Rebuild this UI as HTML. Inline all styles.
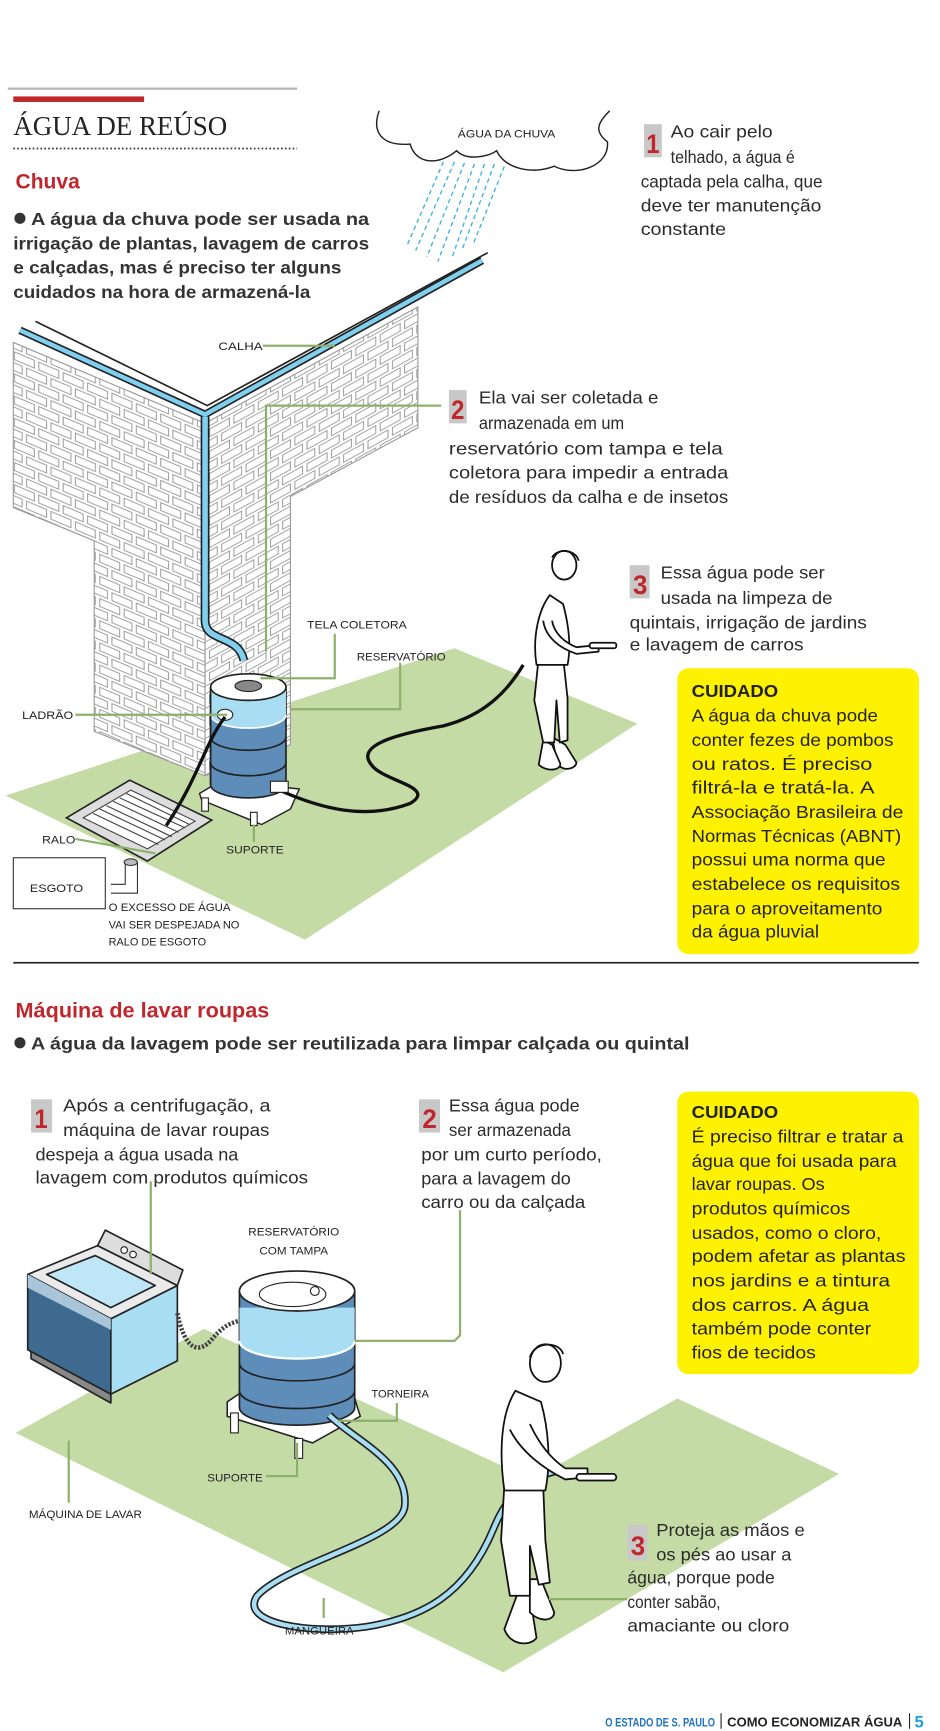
<!DOCTYPE html>
<html><head><meta charset="utf-8"><style>
html,body{margin:0;padding:0;background:#fff}
svg{display:block}
.b{font-family:"Liberation Sans",sans-serif;fill:#2b2b2b;font-size:16px}
.lb{font-family:"Liberation Sans",sans-serif;fill:#222;font-size:10px}
.g{stroke:#8db06a;stroke-width:2;fill:none}
</style></head><body>
<svg width="940" height="1731" viewBox="0 0 848 1562" preserveAspectRatio="none" xmlns="http://www.w3.org/2000/svg">
<defs>
<pattern id="brL" width="44" height="20" patternUnits="userSpaceOnUse" patternTransform="skewY(23)">
<rect width="44" height="20" fill="#fff"/>
<rect x="2" y="2" width="18" height="7" fill="#fff" stroke="#999" stroke-width="0.9"/>
<rect x="24" y="2" width="18" height="7" fill="#fff" stroke="#999" stroke-width="0.9"/>
<rect x="13" y="12" width="18" height="7" fill="#fff" stroke="#999" stroke-width="0.9"/>
<rect x="-9" y="12" width="18" height="7" fill="#fff" stroke="#999" stroke-width="0.9"/>
<rect x="35" y="12" width="18" height="7" fill="#fff" stroke="#999" stroke-width="0.9"/>
</pattern>
<pattern id="brR" width="44" height="20" patternUnits="userSpaceOnUse" patternTransform="skewY(-29)">
<rect width="44" height="20" fill="#fff"/>
<rect x="2" y="2" width="18" height="7" fill="#fff" stroke="#999" stroke-width="0.9"/>
<rect x="24" y="2" width="18" height="7" fill="#fff" stroke="#999" stroke-width="0.9"/>
<rect x="13" y="12" width="18" height="7" fill="#fff" stroke="#999" stroke-width="0.9"/>
<rect x="-9" y="12" width="18" height="7" fill="#fff" stroke="#999" stroke-width="0.9"/>
<rect x="35" y="12" width="18" height="7" fill="#fff" stroke="#999" stroke-width="0.9"/>
</pattern>
</defs>

<!-- header -->
<rect x="7" y="79" width="261" height="2" fill="#b5b5b5"/>
<rect x="12" y="87" width="118" height="5" fill="#c0272d"/>
<text x="12" y="122" font-family="Liberation Serif,serif" font-size="25" fill="#222" textLength="193" lengthAdjust="spacingAndGlyphs">ÁGUA DE REÚSO</text>
<line x1="12" y1="134" x2="268" y2="134" stroke="#333" stroke-width="1.5" stroke-dasharray="1.5 2"/>
<text x="14" y="170" font-family="Liberation Sans,sans-serif" font-weight="bold" font-size="19" fill="#c0272d" textLength="58" lengthAdjust="spacingAndGlyphs">Chuva</text>
<g class="b" font-weight="bold" style="fill:#333">
<circle cx="18" cy="197" r="5" fill="#333"/>
<text x="28" y="203" textLength="305" lengthAdjust="spacingAndGlyphs">A água da chuva pode ser usada na</text>
<text x="12" y="225" textLength="321" lengthAdjust="spacingAndGlyphs">irrigação de plantas, lavagem de carros</text>
<text x="12" y="247" textLength="296" lengthAdjust="spacingAndGlyphs">e calçadas, mas é preciso ter alguns</text>
<text x="12" y="269" textLength="268" lengthAdjust="spacingAndGlyphs">cuidados na hora de armazená-la</text>
</g>

<!-- cloud -->
<path d="M342 100 C335 120 345 132 370 130 C375 148 395 150 412 136 C420 145 440 142 448 136 C455 152 480 158 500 150 C520 160 550 150 548 128 C535 118 540 110 550 100" fill="none" stroke="#222" stroke-width="1.3"/>
<text x="457" y="124" class="lb" text-anchor="middle" font-size="10" textLength="88" lengthAdjust="spacingAndGlyphs">ÁGUA DA CHUVA</text>
<g stroke="#3bb0e0" stroke-width="1.2" stroke-dasharray="4 3">
<line x1="400" y1="146" x2="367" y2="222"/><line x1="410" y1="146" x2="375" y2="226"/><line x1="419" y1="147" x2="385" y2="232"/><line x1="428" y1="148" x2="395" y2="236"/><line x1="437" y1="148" x2="408" y2="232"/><line x1="446" y1="148" x2="417" y2="225"/><line x1="455" y1="150" x2="427" y2="220"/>
</g>

<!-- item1 -->
<rect x="581" y="112" width="16" height="30" fill="#c8c8c8"/>
<text x="583" y="138" font-family="Liberation Sans,sans-serif" font-weight="bold" font-size="24" fill="#c0272d" textLength="12" lengthAdjust="spacingAndGlyphs">1</text>
<g class="b">
<text x="605" y="124" textLength="92" lengthAdjust="spacingAndGlyphs">Ao cair pelo</text>
<text x="605" y="147" textLength="112" lengthAdjust="spacingAndGlyphs">telhado, a água é</text>
<text x="578" y="169" textLength="164" lengthAdjust="spacingAndGlyphs">captada pela calha, que</text>
<text x="578" y="191" textLength="163" lengthAdjust="spacingAndGlyphs">deve ter manutenção</text>
<text x="578" y="212" textLength="77" lengthAdjust="spacingAndGlyphs">constante</text>
</g>

<!-- green ground 1 -->
<polygon points="5,718 410,585 575,653 275,848" fill="#c5dba6"/>

<!-- walls -->
<polygon points="12,309 185,382 185,700 85,660 85,488 12,458" fill="url(#brL)" stroke="#999"/>
<polygon points="185,382 377,277 377,386 262,448 262,672 185,700" fill="url(#brR)" stroke="#999"/>
<!-- gutter -->
<polyline points="18,298 185,374 435,235" fill="none" stroke="#222" stroke-width="7"/>
<polyline points="18,298 185,374 435,235" fill="none" stroke="#7fd0ef" stroke-width="4"/>
<polyline points="32,290 187,366 440,228" fill="none" stroke="#222" stroke-width="1.5"/>
<!-- downpipe -->
<path d="M185 376 V560 C185 580 215 572 220 596" fill="none" stroke="#222" stroke-width="8"/>
<path d="M185 376 V560 C185 580 215 572 220 596" fill="none" stroke="#7fd0ef" stroke-width="5"/>

<!-- grate -->
<polygon points="60,738 117,704 191,740 133,777" fill="#ddd" stroke="#222" stroke-width="1.5"/>
<polygon points="75,738 118,713 176,741 133,766" fill="#fff" stroke="#444"/>
<g stroke="#444" stroke-width="1"><line x1="84" y1="734" x2="143" y2="762"/><line x1="90" y1="730" x2="149" y2="758"/><line x1="96" y1="727" x2="155" y2="755"/><line x1="102" y1="723" x2="161" y2="751"/><line x1="108" y1="720" x2="167" y2="747"/><line x1="114" y1="716" x2="171" y2="744"/></g>
<!-- esgoto pipe -->
<path d="M124 778 V806 H100" fill="none" stroke="#333" stroke-width="1"/>
<path d="M113 778 V798 H100" fill="none" stroke="#333" stroke-width="1"/>
<ellipse cx="118" cy="778" rx="6" ry="3" fill="#bbb" stroke="#333"/>
<rect x="12" y="774" width="83" height="46" fill="#fff" stroke="#333"/>
<text x="27" y="805" class="lb" font-size="11" textLength="48" lengthAdjust="spacingAndGlyphs">ESGOTO</text>

<!-- tank 1 stand -->
<polygon points="180,716 200,704 270,712 262,730 236,744 182,722" fill="#fff" stroke="#222" stroke-width="1.3"/>
<rect x="182" y="720" width="6" height="12" fill="#fff" stroke="#222"/>
<rect x="226" y="733" width="6" height="12" fill="#fff" stroke="#222"/>
<!-- tank 1 -->
<path d="M190 620 V708 A34 12 0 0 0 258 708 V620" fill="#5d8db8" stroke="#222" stroke-width="1.5"/>
<path d="M190 620 V645 A34 12 0 0 0 258 645 V620" fill="#a9ddf4"/>
<path d="M190 645 A34 12 0 0 0 258 645" fill="none" stroke="#fff" stroke-width="1.5"/>
<path d="M190 665 A34 12 0 0 0 258 665 M190 688 A34 12 0 0 0 258 688" fill="none" stroke="#222" stroke-width="1.5"/>
<ellipse cx="224" cy="620" rx="34" ry="12" fill="#fff" stroke="#222" stroke-width="1.5"/>
<ellipse cx="224" cy="619" rx="12" ry="5" fill="#888" stroke="#222"/>
<line x1="190" y1="620" x2="190" y2="708" stroke="#222" stroke-width="1.5"/>
<ellipse cx="203" cy="645" rx="7" ry="5" fill="#fff" stroke="#222"/>
<!-- overflow hose -->
<path d="M203 647 C185 670 180 700 150 745" fill="none" stroke="#111" stroke-width="3"/>
<!-- hose 1 -->
<path d="M252 713 C290 730 330 740 370 725 C395 710 345 705 335 690 C320 672 360 662 400 655 C440 645 460 620 472 600" fill="none" stroke="#111" stroke-width="3"/>
<rect x="244" y="705" width="16" height="10" fill="#fff" stroke="#222"/>

<!-- person 1 -->
<g fill="#fff" stroke="#111" stroke-width="1.6" stroke-linejoin="round">
<path d="M498 665 L503 690 C510 697 520 693 520 688 L510 672 Z"/>
<path d="M490 668 L486 690 C495 698 508 694 505 688 L498 672 Z"/>
<path d="M486 593 L482 632 L490 670 L500 670 L502 632 L505 670 L512 668 L512 630 L508 593 Z"/>
<path d="M496 537 C486 550 480 575 484 600 L512 600 C516 580 512 560 508 545 Z"/>
<path d="M490 560 C492 575 505 585 520 590 L540 588 L540 582 L520 584 C510 580 500 572 498 560"/>
<rect x="532" y="580" width="24" height="5" rx="2"/>
<ellipse cx="509" cy="510" rx="11" ry="13"/>
<path d="M498 503 C503 494 520 496 522 506" fill="none"/>
</g>

<!-- connectors rain -->
<g class="g">
<polyline points="237,312 302,312"/>
<polyline points="398,366 240,366 240,588"/>
<polyline points="302,572 302,612 235,612"/>
<polyline points="361,598 361,640 262,640"/>
<polyline points="68,645 205,645"/>
<polyline points="68,757 140,770"/>
<polyline points="229,744 229,760"/>
</g>
<g class="lb">
<text x="197" y="316" textLength="40" lengthAdjust="spacingAndGlyphs">CALHA</text>
<text x="277" y="567" textLength="90" lengthAdjust="spacingAndGlyphs">TELA COLETORA</text>
<text x="322" y="596" textLength="80" lengthAdjust="spacingAndGlyphs">RESERVATÓRIO</text>
<text x="20" y="649" textLength="46" lengthAdjust="spacingAndGlyphs">LADRÃO</text>
<text x="38" y="761" textLength="30" lengthAdjust="spacingAndGlyphs">RALO</text>
<text x="204" y="770" textLength="52" lengthAdjust="spacingAndGlyphs">SUPORTE</text>
<text x="98" y="822" textLength="110" lengthAdjust="spacingAndGlyphs">O EXCESSO DE ÁGUA</text>
<text x="98" y="838" textLength="118" lengthAdjust="spacingAndGlyphs">VAI SER  DESPEJADA NO</text>
<text x="98" y="853" textLength="88" lengthAdjust="spacingAndGlyphs">RALO DE ESGOTO</text>
</g>

<!-- item2 -->
<rect x="405" y="352" width="16" height="30" fill="#c8c8c8"/>
<text x="407" y="378" font-family="Liberation Sans,sans-serif" font-weight="bold" font-size="24" fill="#c0272d" textLength="12" lengthAdjust="spacingAndGlyphs">2</text>
<g class="b">
<text x="432" y="364" textLength="162" lengthAdjust="spacingAndGlyphs">Ela vai ser coletada e</text>
<text x="432" y="387" textLength="131" lengthAdjust="spacingAndGlyphs">armazenada em um</text>
<text x="405" y="410" textLength="247" lengthAdjust="spacingAndGlyphs">reservatório com tampa e tela</text>
<text x="405" y="432" textLength="252" lengthAdjust="spacingAndGlyphs">coletora para impedir a entrada</text>
<text x="405" y="454" textLength="252" lengthAdjust="spacingAndGlyphs">de resíduos da calha e de insetos</text>
</g>
<!-- item3 -->
<rect x="568" y="510" width="18" height="30" fill="#c8c8c8"/>
<text x="571" y="536" font-family="Liberation Sans,sans-serif" font-weight="bold" font-size="24" fill="#c0272d" textLength="13" lengthAdjust="spacingAndGlyphs">3</text>
<g class="b">
<text x="596" y="522" textLength="148" lengthAdjust="spacingAndGlyphs">Essa água pode ser</text>
<text x="596" y="545" textLength="155" lengthAdjust="spacingAndGlyphs">usada na limpeza de</text>
<text x="568" y="567" textLength="214" lengthAdjust="spacingAndGlyphs">quintais, irrigação de jardins</text>
<text x="568" y="587" textLength="157" lengthAdjust="spacingAndGlyphs">e lavagem de carros</text>
</g>

<!-- cuidado 1 -->
<rect x="611" y="603" width="218" height="258" rx="10" fill="#fff200"/>
<g class="b" style="fill:#222">
<text x="624" y="629" font-weight="bold" textLength="78" lengthAdjust="spacingAndGlyphs">CUIDADO</text>
<text x="624" y="651" textLength="168" lengthAdjust="spacingAndGlyphs">A água da chuva pode</text>
<text x="624" y="673" textLength="182" lengthAdjust="spacingAndGlyphs">conter fezes de pombos</text>
<text x="624" y="695" textLength="163" lengthAdjust="spacingAndGlyphs">ou ratos. É preciso</text>
<text x="624" y="716" textLength="165" lengthAdjust="spacingAndGlyphs">filtrá-la e tratá-la. A</text>
<text x="624" y="738" textLength="191" lengthAdjust="spacingAndGlyphs">Associação Brasileira de</text>
<text x="624" y="760" textLength="189" lengthAdjust="spacingAndGlyphs">Normas Técnicas (ABNT)</text>
<text x="624" y="781" textLength="175" lengthAdjust="spacingAndGlyphs">possui uma norma que</text>
<text x="624" y="803" textLength="188" lengthAdjust="spacingAndGlyphs">estabelece os requisitos</text>
<text x="624" y="825" textLength="172" lengthAdjust="spacingAndGlyphs">para o aproveitamento</text>
<text x="624" y="846" textLength="115" lengthAdjust="spacingAndGlyphs">da água pluvial</text>
</g>

<rect x="12" y="868" width="817" height="1.5" fill="#222"/>

<!-- section 2 -->
<text x="14" y="918" font-family="Liberation Sans,sans-serif" font-weight="bold" font-size="19" fill="#c0272d" textLength="229" lengthAdjust="spacingAndGlyphs">Máquina de lavar roupas</text>
<circle cx="18" cy="941" r="5" fill="#333"/>
<text x="28" y="947" class="b" font-weight="bold" style="fill:#333" textLength="594" lengthAdjust="spacingAndGlyphs">A água da lavagem pode ser reutilizada para limpar calçada ou quintal</text>

<rect x="28" y="992" width="19" height="30" fill="#c8c8c8"/>
<text x="31" y="1018" font-family="Liberation Sans,sans-serif" font-weight="bold" font-size="24" fill="#c0272d" textLength="12" lengthAdjust="spacingAndGlyphs">1</text>
<g class="b">
<text x="57" y="1003" textLength="187" lengthAdjust="spacingAndGlyphs">Após a centrifugação, a</text>
<text x="57" y="1025" textLength="186" lengthAdjust="spacingAndGlyphs">máquina de lavar roupas</text>
<text x="32" y="1047" textLength="183" lengthAdjust="spacingAndGlyphs">despeja a água usada na</text>
<text x="32" y="1068" textLength="246" lengthAdjust="spacingAndGlyphs">lavagem com produtos químicos</text>
</g>
<rect x="378" y="992" width="19" height="30" fill="#c8c8c8"/>
<text x="381" y="1018" font-family="Liberation Sans,sans-serif" font-weight="bold" font-size="24" fill="#c0272d" textLength="13" lengthAdjust="spacingAndGlyphs">2</text>
<g class="b">
<text x="405" y="1003" textLength="118" lengthAdjust="spacingAndGlyphs">Essa água pode</text>
<text x="405" y="1025" textLength="110" lengthAdjust="spacingAndGlyphs">ser armazenada</text>
<text x="380" y="1047" textLength="163" lengthAdjust="spacingAndGlyphs">por um curto período,</text>
<text x="380" y="1069" textLength="135" lengthAdjust="spacingAndGlyphs">para a lavagem do</text>
<text x="380" y="1090" textLength="148" lengthAdjust="spacingAndGlyphs">carro ou da calçada</text>
</g>

<rect x="611" y="985" width="218" height="255" rx="10" fill="#fff200"/>
<g class="b" style="fill:#222">
<text x="624" y="1009" font-weight="bold" textLength="78" lengthAdjust="spacingAndGlyphs">CUIDADO</text>
<text x="624" y="1031" textLength="191" lengthAdjust="spacingAndGlyphs">É preciso filtrar e tratar a</text>
<text x="624" y="1053" textLength="185" lengthAdjust="spacingAndGlyphs">água que foi usada para</text>
<text x="624" y="1074" textLength="120" lengthAdjust="spacingAndGlyphs">lavar roupas. Os</text>
<text x="624" y="1096" textLength="143" lengthAdjust="spacingAndGlyphs">produtos químicos</text>
<text x="624" y="1118" textLength="171" lengthAdjust="spacingAndGlyphs">usados, como o cloro,</text>
<text x="624" y="1139" textLength="193" lengthAdjust="spacingAndGlyphs">podem afetar as plantas</text>
<text x="624" y="1161" textLength="179" lengthAdjust="spacingAndGlyphs">nos jardins e a tintura</text>
<text x="624" y="1183" textLength="160" lengthAdjust="spacingAndGlyphs">dos carros. A água</text>
<text x="624" y="1204" textLength="162" lengthAdjust="spacingAndGlyphs">também pode conter</text>
<text x="624" y="1226" textLength="112" lengthAdjust="spacingAndGlyphs">fios de tecidos</text>
</g>

<!-- green ground 2 -->
<polygon points="14,1293 184,1199 480,1335 611,1262 757,1330 454,1509" fill="#c5dba6"/>

<!-- washing machine -->
<g stroke="#222" stroke-width="1.5" stroke-linejoin="round">
<polygon points="28,1218 100,1258 100,1266 28,1226" fill="#888"/>
<polygon points="25,1150 100,1190 100,1258 25,1218" fill="#3d6a8e"/>
<polygon points="100,1190 160,1160 160,1228 100,1258" fill="#a9ddf4"/>
<polygon points="25,1150 100,1190 160,1160 88,1124" fill="#eaeaea"/>
<polygon points="42,1150 100,1180 140,1160 86,1133" fill="#bfe6f6"/>
<polygon points="88,1124 95,1110 165,1146 160,1160" fill="#ddd"/>
</g>
<polygon points="25,1150 100,1190 100,1200 25,1162" fill="#a9c5da"/>
<circle cx="112" cy="1128" r="3" fill="#fff" stroke="#222"/>
<circle cx="120" cy="1132" r="3" fill="#fff" stroke="#222"/>
<!-- chain -->
<path d="M160 1185 C165 1210 175 1225 190 1210 C200 1198 205 1195 215 1192" fill="none" stroke="#444" stroke-width="4" stroke-dasharray="2 1.5"/>

<!-- tank 2 stand -->
<polygon points="205,1265 230,1248 320,1262 325,1278 282,1302 205,1278" fill="#fff" stroke="#222" stroke-width="1.4"/>
<rect x="208" y="1275" width="7" height="18" fill="#fff" stroke="#222"/>
<rect x="266" y="1298" width="7" height="18" fill="#fff" stroke="#222"/>
<!-- tank 2 -->
<path d="M216 1165 V1270 A52 16 0 0 0 320 1270 V1165" fill="#5d8db8" stroke="#222" stroke-width="1.5"/>
<path d="M216 1180 V1210 A52 16 0 0 0 320 1210 V1180 Z" fill="#a9ddf4"/>
<path d="M216 1230 A52 16 0 0 0 320 1230 M216 1255 A52 16 0 0 0 320 1255" fill="none" stroke="#222" stroke-width="1.5"/>
<path d="M216 1210 A52 16 0 0 0 320 1210" fill="none" stroke="#fff" stroke-width="2"/>
<ellipse cx="268" cy="1165" rx="52" ry="18" fill="#fff" stroke="#222" stroke-width="1.5"/>
<ellipse cx="264" cy="1168" rx="30" ry="11" fill="#fff" stroke="#222"/>
<circle cx="284" cy="1165" r="4" fill="#fff" stroke="#222"/>
<!-- hose 2 -->
<path d="M297 1277 C320 1300 370 1320 365 1360 C360 1390 260 1410 232 1440 C215 1465 280 1475 330 1468 C380 1460 420 1440 445 1380 C455 1355 470 1335 500 1328" fill="none" stroke="#222" stroke-width="7"/>
<path d="M297 1277 C320 1300 370 1320 365 1360 C360 1390 260 1410 232 1440 C215 1465 280 1475 330 1468 C380 1460 420 1440 445 1380 C455 1355 470 1335 500 1328" fill="none" stroke="#a9ddf4" stroke-width="4"/>

<!-- person 2 -->
<g fill="#fff" stroke="#111" stroke-width="1.6" stroke-linejoin="round">
<path d="M468 1435 L455 1470 C460 1485 478 1486 484 1478 L478 1440 Z"/>
<path d="M478 1425 L478 1455 C488 1465 500 1462 500 1455 L488 1425 Z"/>
<path d="M455 1340 L452 1390 L460 1440 L478 1440 L478 1395 L486 1430 L496 1428 L492 1390 L490 1340 Z"/>
<path d="M465 1255 C452 1275 450 1310 455 1345 L492 1345 C497 1320 495 1290 488 1265 Z"/>
<path d="M460 1290 C470 1310 490 1325 510 1335 L530 1333 L530 1325 L510 1325 C495 1315 485 1300 478 1285"/>
<rect x="520" y="1330" width="36" height="6" rx="3"/>
<ellipse cx="492" cy="1230" rx="14" ry="17"/>
<path d="M478 1225 C482 1210 505 1210 508 1222" fill="none"/>
</g>

<!-- connectors sec2 -->
<g class="g">
<polyline points="136,1066 136,1150"/>
<polyline points="415,1092 415,1205 410,1210 320,1210"/>
<polyline points="358,1266 358,1282 305,1282"/>
<polyline points="240,1332 268,1332 268,1302"/>
<polyline points="62,1356 62,1300"/>
<polyline points="292,1460 292,1442"/>
<polyline points="566,1443 495,1443"/>
</g>
<g class="lb">
<text x="265" y="1115" text-anchor="middle" textLength="82" lengthAdjust="spacingAndGlyphs">RESERVATÓRIO</text>
<text x="265" y="1132" text-anchor="middle" textLength="62" lengthAdjust="spacingAndGlyphs">COM TAMPA</text>
<text x="335" y="1261" textLength="52" lengthAdjust="spacingAndGlyphs">TORNEIRA</text>
<text x="187" y="1337" textLength="50" lengthAdjust="spacingAndGlyphs">SUPORTE</text>
<text x="26" y="1370" textLength="102" lengthAdjust="spacingAndGlyphs">MÁQUINA DE LAVAR</text>
<text x="257" y="1475" textLength="62" lengthAdjust="spacingAndGlyphs">MANGUEIRA</text>
</g>

<!-- item3 sec2 -->
<rect x="566" y="1376" width="18" height="32" fill="#c8c8c8"/>
<text x="569" y="1403" font-family="Liberation Sans,sans-serif" font-weight="bold" font-size="24" fill="#c0272d" textLength="13" lengthAdjust="spacingAndGlyphs">3</text>
<g class="b">
<text x="592" y="1386" textLength="134" lengthAdjust="spacingAndGlyphs">Proteja as mãos e</text>
<text x="592" y="1408" textLength="122" lengthAdjust="spacingAndGlyphs">os pés ao usar a</text>
<text x="566" y="1429" textLength="133" lengthAdjust="spacingAndGlyphs">água, porque pode</text>
<text x="566" y="1451" textLength="84" lengthAdjust="spacingAndGlyphs">conter sabão,</text>
<text x="566" y="1472" textLength="146" lengthAdjust="spacingAndGlyphs">amaciante ou cloro</text>
</g>

<!-- footer -->
<text x="546" y="1558" font-family="Liberation Sans,sans-serif" font-weight="bold" font-size="11" fill="#1e73be" textLength="99" lengthAdjust="spacingAndGlyphs">O ESTADO DE S. PAULO</text>
<rect x="650" y="1546" width="1" height="14" fill="#222"/>
<text x="656" y="1558" font-family="Liberation Sans,sans-serif" font-weight="bold" font-size="12" fill="#222" textLength="158" lengthAdjust="spacingAndGlyphs">COMO ECONOMIZAR ÁGUA</text>
<rect x="820" y="1546" width="1" height="14" fill="#222"/>
<text x="825" y="1559" font-family="Liberation Sans,sans-serif" font-weight="bold" font-size="15" fill="#1ea0dc">5</text>
</svg>
</body></html>
